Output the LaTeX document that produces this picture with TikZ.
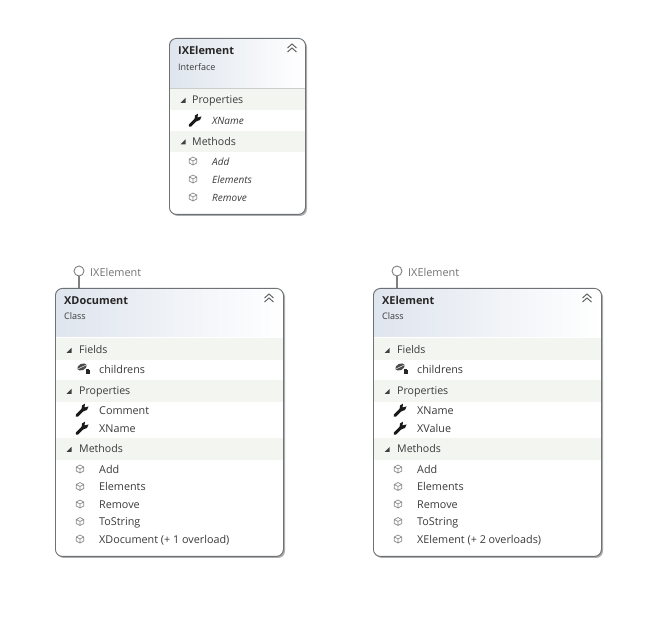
\documentclass[tikz,border=0pt]{standalone}
\usepackage{fontspec}
\setmainfont{Open Sans}
\usetikzlibrary{calc}
\definecolor{bandcol}{HTML}{F3F5F1}
\definecolor{edgecol}{HTML}{6E7276}
\definecolor{headcol}{HTML}{DFE5EE}
\definecolor{textcol}{HTML}{3A3A3A}
\begin{document}
\begin{tikzpicture}[
      x=1pt, y=-1pt,
      classbox/.style={draw=edgecol, line width=0.9pt, rounded corners=7pt, anchor=north west, inner sep=0pt},
      boxback/.style={fill=white, rounded corners=7pt},
      boxshadow/.style={fill=black!32, rounded corners=7pt},
      header/.style={left color=headcol, right color=white, draw=none},
      band/.style={fill=bandcol},
      label/.style={anchor=west, inner sep=0pt, text height=10pt, text depth=1pt},
      title/.style={label, font=\fontsize{10.9}{12}\selectfont\bfseries, text=black!85},
      kind/.style={label, font=\fontsize{9}{10}\selectfont, text=textcol},
      group/.style={label, font=\fontsize{10.6}{12}\selectfont, text=textcol},
      member/.style={label, font=\fontsize{10.8}{11}\selectfont, text=textcol},
      imember/.style={member, font=\fontsize{10}{11}\selectfont\itshape},
      lollipop/.style={circle, draw=black!50, fill=white, line width=0.9pt, inner sep=0pt, minimum size=10pt},
      stem/.style={draw=black!50, line width=1.1pt},
      ifacelabel/.style={label, font=\fontsize{10.9}{11}\selectfont, text=black!55},
      opened/.pic={\fill[black!75] (-2.5,2.5) -- (2.5,2.5) -- (2.5,-2.5) -- cycle;},
      collapse/.pic={\draw[black!60, line width=1pt] (-4.5,0) -- (0,-4) -- (4.5,0) (-4.5,4) -- (0,0) -- (4.5,4);},
      wrench/.pic={\draw[black!90, line width=3pt, line cap=round] (-5,5.5) -- (1.5,-1);
        \fill[black!90] (0,-4.5) -- (3,-6.3) -- (2.5,-2.5) -- (6.5,-3.5) -- (5,0) -- (1,1.5) -- (-0.5,0) -- cycle;},
      method/.pic={\draw[black!45, line width=0.7pt] (0,-4) -- (3.7,-2) -- (3.7,2) -- (0,4) -- (-3.7,2) -- (-3.7,-2) -- cycle
        (-3.7,-2) -- (0,0) -- (3.7,-2) (0,0) -- (0,4);},
      field/.pic={\fill[black!70, rotate=25] (0,0) ellipse[x radius=5, y radius=3.2];
        \draw[white, line width=0.5pt, rotate=25] (-4,0) -- (4,0);
        \fill[black!85] (3.5,3.5) rectangle (7.5,7);
        \draw[black!85, line width=0.7pt] (4.4,3.5) -- (4.4,2.2) -- (6.6,2.2) -- (6.6,3.5);}
    ]
    \useasboundingbox (0,0) rectangle (649,620);
    % interface on top
    \fill[boxshadow] (171,40) rectangle (307,216);
    \fill[boxback] (169,38) rectangle (305,214);
    \path[header] (169,88) [rounded corners=7pt] -- (169,38) -- (305,38) [sharp corners] -- (305,88) -- cycle;
    \fill[band] (169,89) rectangle (305,110);
    \fill[band] (169,131) rectangle (305,152);
    \draw[black!20] (169,88) -- (305,88);
    \node[classbox, minimum width=136pt, minimum height=176pt] (ixelement) at (169,38) {};
    \node[title] (ixtitle) at (178,50) {IXElement};
    \node[kind] (ixkind) at (178,66) {Interface};
    \pic at (292,48) {collapse};
    \foreach \y/\t in {99.5/Properties, 141/Methods} {
      \pic at (183,\y+1) {opened};
      \node[group] (ix-\t) at (192,\y) {\t};
    }
    \pic at (195,120) {wrench};
    \node[imember] (ix-XName) at (212,120) {XName};
    \foreach \y/\t in {161/Add, 179/Elements, 197/Remove} {
      \pic at (193,\y) {method};
      \node[imember] (ix-\t) at (212,\y) {\t};
    }
    % the two classes
    \foreach \b/\x/\name/\first/\second/\ctor in {
        xdoc/55/XDocument/Comment/XName/{XDocument (+ 1 overload)},
        xel/373/XElement/XName/XValue/{XElement (+ 2 overloads)}} {
      \fill[boxshadow] (\x+2,290) rectangle (\x+230,558);
      \fill[boxback] (\x,288) rectangle (\x+228,556);
      \path[header] (\x,337) [rounded corners=7pt] -- (\x,288) -- (\x+228,288) [sharp corners] -- (\x+228,337) -- cycle;
      \foreach \y in {338, 380, 438} {
        \fill[band] (\x,\y) rectangle (\x+228,\y+22);
      }
      \node[classbox, minimum width=228pt, minimum height=268pt] (\b) at (\x,288) {};
      \node[lollipop] (\b-lol) at (\x+24,271) {};
      \draw[stem] (\b-lol) -- (\b-lol |- \b.north);
      \node[ifacelabel] (\b-iface) at (\x+35,272.5) {IXElement};
      \node[title] (\b-title) at (\x+9,300) {\name};
      \node[kind] (\b-kind) at (\x+9,315) {Class};
      \pic at (\x+214,298) {collapse};
      \foreach \y/\t in {349.5/Fields, 390.5/Properties, 448.5/Methods} {
        \pic at (\x+14,\y+1) {opened};
        \node[group] (\b-\t) at (\x+24,\y) {\t};
      }
      \pic at (\x+27,367) {field};
      \node[member] (\b-childrens) at (\x+44,369.5) {childrens};
      \pic at (\x+27,410) {wrench};
      \pic at (\x+27,428) {wrench};
      \node[member] (\b-prop1) at (\x+44,410.5) {\first};
      \node[member] (\b-prop2) at (\x+44,428) {\second};
      \foreach \y/\t in {469/Add, 486.5/Elements, 504/Remove, 521.5/ToString, 539/\ctor} {
        \pic at (\x+25,\y) {method};
        \node[member] (\b-m\y) at (\x+44,\y) {\t};
      }
    }
\end{tikzpicture}
\end{document}
